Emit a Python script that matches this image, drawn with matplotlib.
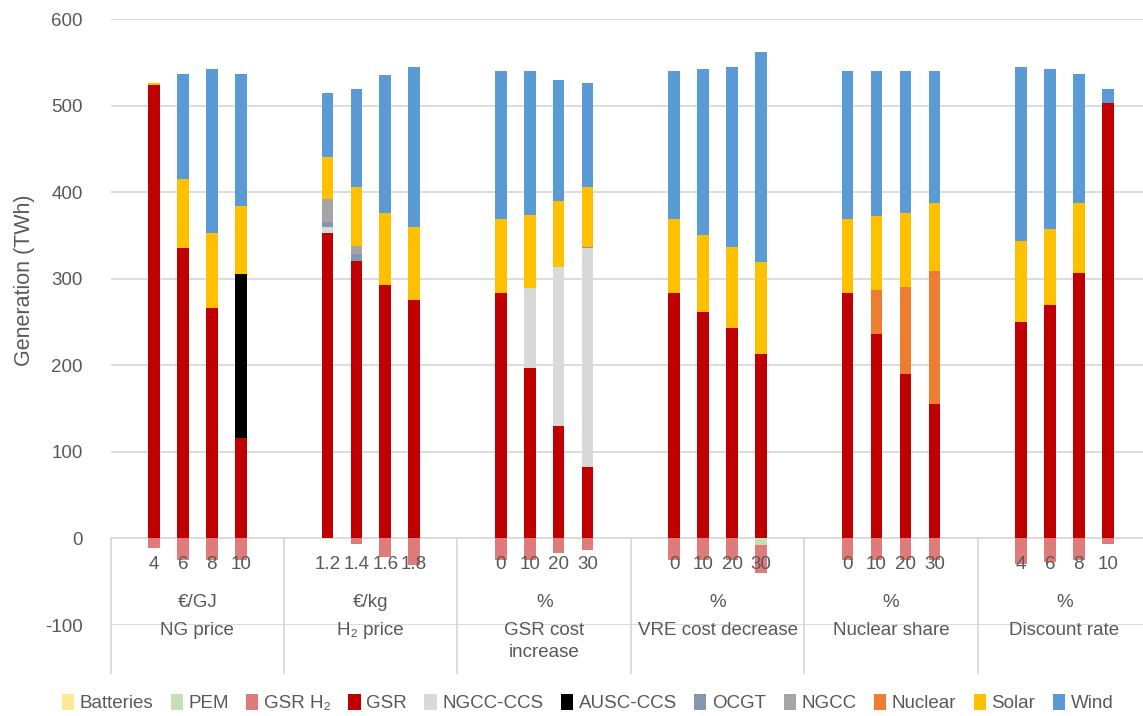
import matplotlib.pyplot as plt
from matplotlib.patches import Patch
import numpy as np

plt.rcParams['font.family'] = ['Liberation Sans', 'DejaVu Sans']
plt.rcParams['axes.unicode_minus'] = False

# scenario groups (6 per group on the axis: blank, 4 cases, blank)
groups = ['NG price', 'H₂ price', 'GSR cost\nincrease', 'VRE cost decrease', 'Nuclear share', 'Discount rate']
units = ['€/GJ', '€/kg', '%', '%', '%', '%']
cases = [['4', '6', '8', '10'],
         ['1.2', '1.4', '1.6', '1.8'],
         ['0', '10', '20', '30'],
         ['0', '10', '20', '30'],
         ['0', '10', '20', '30'],
         ['4', '6', '8', '10']]

# generation (TWh), one value per bar, group by group
batteries = [0, 0, 0, 0,  0, 0, 0, 0,  0, 0, 0, 0,  0, 0, 0, 0,  0, 0, 0, 0,  0, 0, 0, 0]
pem =       [0, 0, 0, 0,  0, 0, 0, 0,  0, 0, 0, 0,  0, 0, 0, -8,  0, 0, 0, 0,  0, 0, 0, 0]
gsr_h2 = [-11, -25, -25, -25,  0, -6, -22, -31,  -25, -25, -17, -13,
          -25, -25, -25, -32,  -25, -25, -25, -25,  -30, -27, -25, -6]
gsr = [524, 335, 266, 116,  353, 321, 293, 275,  284, 197, 130, 82,
       284, 261, 243, 213,  284, 236, 190, 155,  250, 270, 307, 503]
ngcc_ccs = [0, 0, 0, 0,  7, 0, 0, 0,  0, 92, 184, 253,  0, 0, 0, 0,  0, 0, 0, 0,  0, 0, 0, 0]
ausc_ccs = [0, 0, 0, 189,  0, 0, 0, 0,  0, 0, 0, 0,  0, 0, 0, 0,  0, 0, 0, 0,  0, 0, 0, 0]
ocgt = [0, 0, 0, 0,  5, 7, 0, 0,  0, 0, 0, 2,  0, 0, 0, 0,  0, 0, 0, 0,  0, 0, 0, 0]
ngcc = [0, 0, 0, 0,  27, 10, 0, 0,  0, 0, 0, 0,  0, 0, 0, 0,  0, 0, 0, 0,  0, 0, 0, 0]
nuclear = [0, 0, 0, 0,  0, 0, 0, 0,  0, 0, 0, 0,  0, 0, 0, 0,  0, 51, 101, 154,  0, 0, 0, 0]
solar = [2, 80, 87, 79,  49, 68, 83, 85,  85, 85, 76, 69,
         85, 90, 94, 106,  85, 85, 85, 79,  94, 87, 80, 0]
wind = [0, 122, 189, 153,  74, 113, 159, 184,  171, 166, 140, 120,
        171, 191, 207, 243,  171, 168, 164, 152,  200, 185, 150, 16]

series = [('Batteries', batteries, '#FFE699'),
          ('PEM', pem, '#C5E0B4'),
          ('GSR H₂', gsr_h2, '#E07B7B'),
          ('GSR', gsr, '#C00000'),
          ('NGCC-CCS', ngcc_ccs, '#D9D9D9'),
          ('AUSC-CCS', ausc_ccs, '#000000'),
          ('OCGT', ocgt, '#8497B0'),
          ('NGCC', ngcc, '#A5A5A5'),
          ('Nuclear', nuclear, '#ED7D31'),
          ('Solar', solar, '#FFC000'),
          ('Wind', wind, '#5B9BD5')]

txt = '#595959'
fs = 13.5

x = np.array([g * 6 + 1 + i for g in range(len(groups)) for i in range(4)])

fig = plt.figure(figsize=(11.43, 7.16), dpi=100)
ax = fig.add_axes([110.7 / 1143, (716 - 625) / 716, 1 - 110.7 / 1143, (625 - 19) / 716])

pos_bottom = np.zeros(len(x))
neg_bottom = np.zeros(len(x))
for name, vals, col in series:
    v = np.array(vals, dtype=float)
    b = np.where(v >= 0, pos_bottom, neg_bottom)
    ax.bar(x, v, 0.4, bottom=b, color=col, edgecolor='none', zorder=3)
    pos_bottom += np.clip(v, 0, None)
    neg_bottom += np.clip(v, None, 0)

ax.set_xlim(-0.5, 35.22)
ax.set_ylim(-100, 600)
ax.set_yticks(range(-100, 601, 100))
ax.set_xticks([])
ax.yaxis.grid(True, color='#D9D9D9', lw=1.3)
ax.set_axisbelow(True)
for s in ax.spines.values():
    s.set_visible(False)
ax.tick_params(axis='y', length=0, pad=20, labelsize=fs, labelcolor=txt)

# multi-level category axis
for g in range(len(groups) + 1):
    ax.plot([g * 6 - 0.5] * 2, [0, -155], color='#D9D9D9', lw=1.3, clip_on=False, zorder=2)
for g in range(len(groups)):
    for i, lab in enumerate(cases[g]):
        ax.text(g * 6 + 1 + i, -30, lab, ha='center', va='center', fontsize=fs, color=txt, zorder=5)
    ax.text(g * 6 + 2.5, -74, units[g], ha='center', va='center', fontsize=fs, color=txt)
    ax.text(g * 6 + 2.5, -96, groups[g], ha='center', va='top', fontsize=fs, color=txt,
            linespacing=1.4, clip_on=False)

fig.text(25 / 1143, (716 - 280) / 716, 'Generation (TWh)', rotation=90, ha='center', va='center',
         fontsize=15.5, color=txt)

handles = [Patch(facecolor=c, edgecolor='none', label=n) for n, v, c in series]
fig.legend(handles=handles, loc='center', bbox_to_anchor=(0.514, (716 - 703) / 716), ncol=11,
           frameon=False, fontsize=fs, labelcolor=txt, handlelength=0.65, handleheight=1.0,
           handletextpad=0.3, columnspacing=0.93, borderaxespad=0)

fig.savefig('out.png', dpi=100)
